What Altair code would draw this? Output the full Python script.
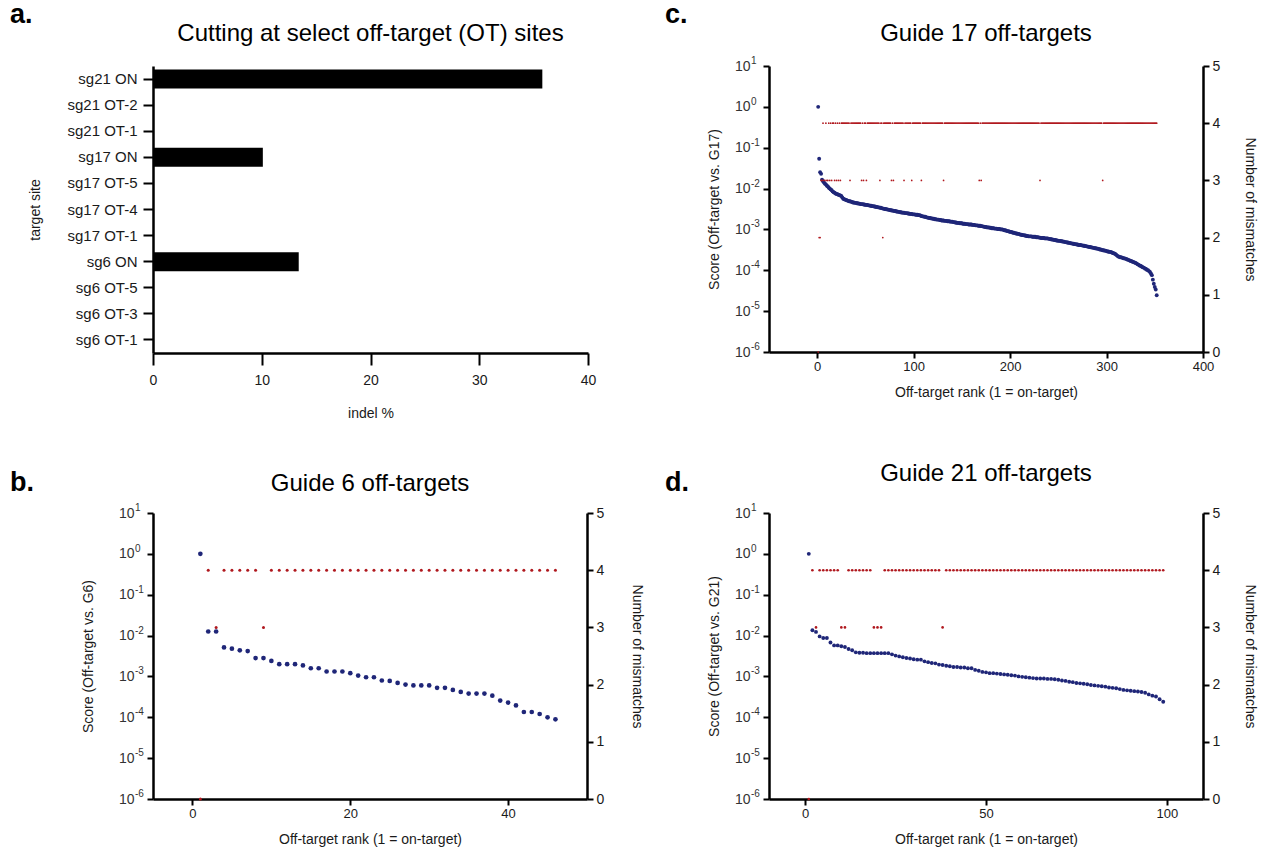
import altair as alt
import pandas as pd

FONT = "Liberation Sans"
BLUE = "#1F2678"
RED = "#B0181E"
INK = "#1a1a1a"

# ---------------- panel a ----------------
sites = ["sg21 ON", "sg21 OT-2", "sg21 OT-1", "sg17 ON", "sg17 OT-5", "sg17 OT-4",
         "sg17 OT-1", "sg6 ON", "sg6 OT-5", "sg6 OT-3", "sg6 OT-1"]
indel = [35.8, 0, 0, 10.1, 0, 0, 0, 13.4, 0, 0, 0]

# ---------------- panel b (guide 6) ----------------
b_log_score = [0, -1.90, -1.90, -2.29, -2.32, -2.36, -2.38, -2.55, -2.55, -2.62,
               -2.70, -2.70, -2.70, -2.73, -2.80, -2.80, -2.88, -2.88, -2.88, -2.92,
               -2.98, -3.02, -3.02, -3.10, -3.11, -3.16, -3.20, -3.22, -3.22, -3.22,
               -3.28, -3.28, -3.33, -3.38, -3.42, -3.42, -3.42, -3.47, -3.59, -3.64,
               -3.71, -3.87, -3.87, -3.92, -4.00, -4.05]
b_mismatch = [0, 4, 3, 4, 4, 4, 4, 4, 3, 4,
              4, 4, 4, 4, 4, 4, 4, 4, 4, 4,
              4, 4, 4, 4, 4, 4, 4, 4, 4, 4,
              4, 4, 4, 4, 4, 4, 4, 4, 4, 4,
              4, 4, 4, 4, 4, 4]

# ---------------- panel c (guide 17) ----------------
c_log_score = [
    0, -1.27, -1.60, -1.64, -1.78, -1.82, -1.85, -1.88, -1.90, -1.93,
    -1.95, -1.98, -2.00, -2.02, -2.04, -2.07, -2.09, -2.10, -2.12, -2.13,
    -2.14, -2.15, -2.16, -2.17, -2.18, -2.22, -2.25, -2.26, -2.27, -2.28,
    -2.29, -2.30, -2.31, -2.31, -2.32, -2.33, -2.34,
    -2.34, -2.35, -2.35, -2.36, -2.36, -2.37, -2.37,
    -2.38, -2.38, -2.38, -2.39, -2.39, -2.40, -2.40,
    -2.40, -2.41, -2.41, -2.42, -2.42, -2.43, -2.43,
    -2.44, -2.44, -2.45, -2.45, -2.46, -2.46, -2.47,
    -2.47, -2.48, -2.49, -2.49, -2.50, -2.50, -2.51,
    -2.51, -2.52, -2.52, -2.53, -2.53, -2.54, -2.54,
    -2.55, -2.55, -2.56, -2.56, -2.57, -2.57, -2.58,
    -2.58, -2.59, -2.59, -2.59, -2.60, -2.60, -2.60,
    -2.61, -2.61, -2.62, -2.62, -2.62, -2.63, -2.63,
    -2.63, -2.64, -2.64, -2.64, -2.65, -2.65, -2.66,
    -2.67, -2.68, -2.68, -2.69, -2.69, -2.70, -2.71,
    -2.71, -2.72, -2.72, -2.73, -2.73, -2.74, -2.74,
    -2.75, -2.75, -2.76, -2.76, -2.76, -2.77, -2.77,
    -2.78, -2.78, -2.78, -2.79, -2.79, -2.79, -2.80,
    -2.80, -2.80, -2.81, -2.81, -2.81, -2.82, -2.82,
    -2.83, -2.83, -2.84, -2.84, -2.84, -2.85, -2.85,
    -2.85, -2.86, -2.86, -2.86, -2.87, -2.87, -2.87,
    -2.88, -2.88, -2.88, -2.88, -2.89, -2.89, -2.89,
    -2.90, -2.90, -2.90, -2.91, -2.91, -2.91, -2.92,
    -2.92, -2.93, -2.93, -2.94, -2.94, -2.95, -2.95,
    -2.95, -2.96, -2.96, -2.97, -2.97, -2.97, -2.98,
    -2.98, -2.98, -2.99, -2.99, -2.99, -3.00, -3.00,
    -3.00, -3.01, -3.02, -3.02, -3.03, -3.04, -3.04,
    -3.05, -3.06, -3.06, -3.07, -3.08, -3.08, -3.09,
    -3.10, -3.10, -3.11, -3.11, -3.12, -3.13, -3.13,
    -3.14, -3.14, -3.15, -3.15, -3.16, -3.16, -3.17,
    -3.17, -3.17, -3.17, -3.18, -3.18, -3.18, -3.18,
    -3.19, -3.19, -3.19, -3.20, -3.20, -3.21, -3.21,
    -3.21, -3.21, -3.22, -3.22, -3.22, -3.22, -3.23,
    -3.23, -3.24, -3.24, -3.25, -3.25, -3.26, -3.26,
    -3.27, -3.27, -3.28, -3.28, -3.28, -3.29, -3.29,
    -3.30, -3.30, -3.31, -3.31, -3.32, -3.32, -3.33,
    -3.33, -3.34, -3.34, -3.35, -3.35, -3.36, -3.36,
    -3.37, -3.37, -3.38, -3.38, -3.38, -3.39, -3.39,
    -3.40, -3.40, -3.41, -3.41, -3.42, -3.42, -3.43,
    -3.43, -3.44, -3.44, -3.45, -3.45, -3.46, -3.46,
    -3.47, -3.47, -3.48, -3.49, -3.49, -3.50, -3.51,
    -3.51, -3.52, -3.52, -3.53, -3.54, -3.54, -3.55,
    -3.55, -3.56, -3.57, -3.58, -3.59, -3.60, -3.62,
    -3.64, -3.66, -3.67, -3.68, -3.68, -3.69, -3.70,
    -3.71, -3.71, -3.72, -3.73, -3.74, -3.75, -3.76,
    -3.77, -3.78, -3.79, -3.80, -3.81, -3.82, -3.83,
    -3.85, -3.86, -3.88, -3.89, -3.90, -3.92, -3.93,
    -3.94, -3.96, -3.97, -3.99, -4.00, -4.02, -4.04,
    -4.08, -4.12, -4.23, -4.33, -4.41, -4.47, -4.61]
# mismatch counts for guide 17: every rank is at 4 except these
c_ranks_mm0 = [1]
c_ranks_mm2 = [2, 3, 68]
c_ranks_mm3 = [4, 5, 7, 8, 10, 11, 13, 15, 18, 20, 22, 24, 34, 46, 48, 51, 65,
               77, 79, 90, 98, 108, 131, 168, 170, 231, 296]
c_mm_other = 4

# ---------------- panel d (guide 21) ----------------
d_log_score = [0, -1.87, -1.91, -2.02, -2.06, -2.06, -2.17, -2.24, -2.24, -2.26,
               -2.28, -2.33, -2.36, -2.41, -2.42, -2.42, -2.43, -2.43, -2.43, -2.43,
               -2.43, -2.43, -2.43, -2.46, -2.49, -2.51, -2.53, -2.55, -2.56, -2.58,
               -2.59, -2.59, -2.63, -2.65, -2.67, -2.68, -2.71, -2.72, -2.74, -2.75,
               -2.77, -2.77, -2.78, -2.78, -2.80, -2.80, -2.84, -2.86, -2.89, -2.90,
               -2.92, -2.92, -2.93, -2.94, -2.95, -2.96, -2.97, -2.98, -3.00, -3.01,
               -3.02, -3.03, -3.04, -3.05, -3.05, -3.05, -3.06, -3.06, -3.07, -3.08,
               -3.10, -3.11, -3.13, -3.14, -3.16, -3.17, -3.18, -3.19, -3.21, -3.22,
               -3.23, -3.24, -3.25, -3.27, -3.28, -3.29, -3.31, -3.33, -3.34, -3.35,
               -3.36, -3.37, -3.38, -3.40, -3.44, -3.47, -3.49, -3.56, -3.62]
d_mismatch = [0, 4, 3, 4, 4, 4, 4, 4, 4, 3,
              3, 4, 4, 4, 4, 4, 4, 4, 3, 3,
              3, 4, 4, 4, 4, 4, 4, 4, 4, 4,
              4, 4, 4, 4, 4, 4, 4, 3, 4, 4,
              4, 4, 4, 4, 4, 4, 4, 4, 4, 4,
              4, 4, 4, 4, 4, 4, 4, 4, 4, 4,
              4, 4, 4, 4, 4, 4, 4, 4, 4, 4,
              4, 4, 4, 4, 4, 4, 4, 4, 4, 4,
              4, 4, 4, 4, 4, 4, 4, 4, 4, 4,
              4, 4, 4, 4, 4, 4, 4, 4, 4]

# log axis ticks and their exponent labels (drawn as superscripts after "10")
log_ticks = [1e-6, 1e-5, 1e-4, 1e-3, 1e-2, 1e-1, 1, 10]
log_exponents = ["-6", "-5", "-4", "-3", "-2", "-1", "0", "1"]

PW = 434
PH = 287
LOG_SCALE = alt.Scale(type="log", domain=[1e-6, 10], nice=False)


def txt(s, dx, dy, size, bold=False, align="left", baseline="alphabetic"):
    return alt.Chart(pd.DataFrame({"t": [s]})).mark_text(
        font=FONT, fontSize=size, fontWeight="bold" if bold else "normal",
        align=align, baseline=baseline, color="black"
    ).encode(text="t:N", x=alt.value(dx), y=alt.value(dy))


def exponent_layer():
    df = pd.DataFrame({"v": log_ticks, "e": log_exponents})
    return alt.Chart(df).mark_text(
        font=FONT, fontSize=10, align="left", baseline="middle", dy=-5, color="#333333"
    ).encode(x=alt.value(-18), y=alt.Y("v:Q", scale=LOG_SCALE, axis=None), text="e:N")


def scatter(title, ty, log_scores, mism, xdom, xvals, gname, bsize, rsize,
            left_tp, right_tp, let, let_dx, let_dy):
    ranks = list(range(1, len(log_scores) + 1))
    df = pd.DataFrame({"rank": ranks,
                       "score": [10 ** v for v in log_scores],
                       "mm": mism})
    xenc = alt.X("rank:Q", scale=alt.Scale(domain=xdom, nice=False, zero=False),
                 axis=alt.Axis(values=xvals, title="Off-target rank (1 = on-target)",
                               tickSize=6, labelPadding=2, titlePadding=12,
                               labelFontSize=13, titleFontSize=14, format="d",
                               labelFlush=False))
    blue = alt.Chart(df).mark_circle(size=bsize, color=BLUE, opacity=1).encode(
        x=xenc,
        y=alt.Y("score:Q", scale=LOG_SCALE,
                axis=alt.Axis(orient="left", values=log_ticks, labelExpr="'10'",
                              title=f"Score (Off-target vs. {gname})", tickSize=6,
                              labelPadding=13, titlePadding=left_tp, labelFontSize=14,
                              labelColor="#333333",
                              titleFontSize=14, labelFlush=False)))
    red = alt.Chart(df).mark_circle(size=rsize, color=RED, opacity=1, clip=False).encode(
        x=xenc,
        y=alt.Y("mm:Q", scale=alt.Scale(domain=[0, 5], nice=False),
                axis=alt.Axis(orient="right", values=[0, 1, 2, 3, 4, 5], format="d",
                              title="Number of mismatches", tickSize=6, labelPadding=3,
                              titlePadding=right_tp, labelFontSize=14, titleFontSize=14,
                              labelFlush=False)))
    return alt.layer(
        blue, red, exponent_layer(),
        txt(let, let_dx, let_dy, 27, bold=True),
        txt(title, PW / 2, ty, 24, align="center", baseline="middle"),
    ).resolve_scale(y="independent").properties(width=PW, height=PH - 1)


# panel a
df_a = pd.DataFrame({"site": sites, "indel": indel})
bars = alt.Chart(df_a).mark_bar(color="black", size=19).encode(
    x=alt.X("indel:Q", scale=alt.Scale(domain=[0, 40], nice=False),
            axis=alt.Axis(values=[0, 10, 20, 30, 40], title="indel %", tickSize=12,
                          labelPadding=8, titlePadding=19, labelFontSize=14,
                          titleFontSize=14, labelFlush=False)),
    y=alt.Y("site:N", sort=sites,
            scale=alt.Scale(paddingInner=0, paddingOuter=0),
            axis=alt.Axis(title="target site", tickSize=10, labelPadding=6,
                          titlePadding=24, labelFontSize=15, titleFontSize=14)),
)
panel_a = alt.layer(
    bars,
    txt("a.", -143, -43, 27, bold=True),
    txt("Cutting at select off-target (OT) sites", (PW + 1) / 2, -32, 24,
        align="center", baseline="middle"),
).properties(width=PW + 1, height=PH)

# panel c
c_mismatch = []
for r in range(1, len(c_log_score) + 1):
    if r in c_ranks_mm0:
        c_mismatch.append(0)
    elif r in c_ranks_mm2:
        c_mismatch.append(2)
    elif r in c_ranks_mm3:
        c_mismatch.append(3)
    else:
        c_mismatch.append(c_mm_other)

panel_c = scatter("Guide 17 off-targets", -32, c_log_score, c_mismatch, [-50, 400],
                  [0, 100, 200, 300, 400], "G17", 15, 3, 13, 23, "c.", -104, -43)
panel_b = scatter("Guide 6 off-targets", -29, b_log_score, b_mismatch, [-5, 50],
                  [0, 20, 40], "G6", 22, 9, 23, 26, "b.", -143, -22)
panel_d = scatter("Guide 21 off-targets", -39, d_log_score, d_mismatch, [-10, 110],
                  [0, 50, 100], "G21", 15, 7, 13, 23, "d.", -104, -22)

chart = alt.concat(panel_a, panel_c, panel_b, panel_d, columns=2,
                   spacing={"row": 42, "column": 21}).properties(
    padding={"left": 10, "top": 1, "right": 5, "bottom": 5}
).configure_view(stroke=None).configure_axis(
    domainColor="black", domainWidth=2.5, tickColor="black", tickWidth=2,
    labelColor=INK, titleColor=INK, labelFont=FONT, titleFont=FONT,
    titleFontWeight="normal", grid=False
)

chart.save("out.html", embed_options={"renderer": "svg", "actions": False})
